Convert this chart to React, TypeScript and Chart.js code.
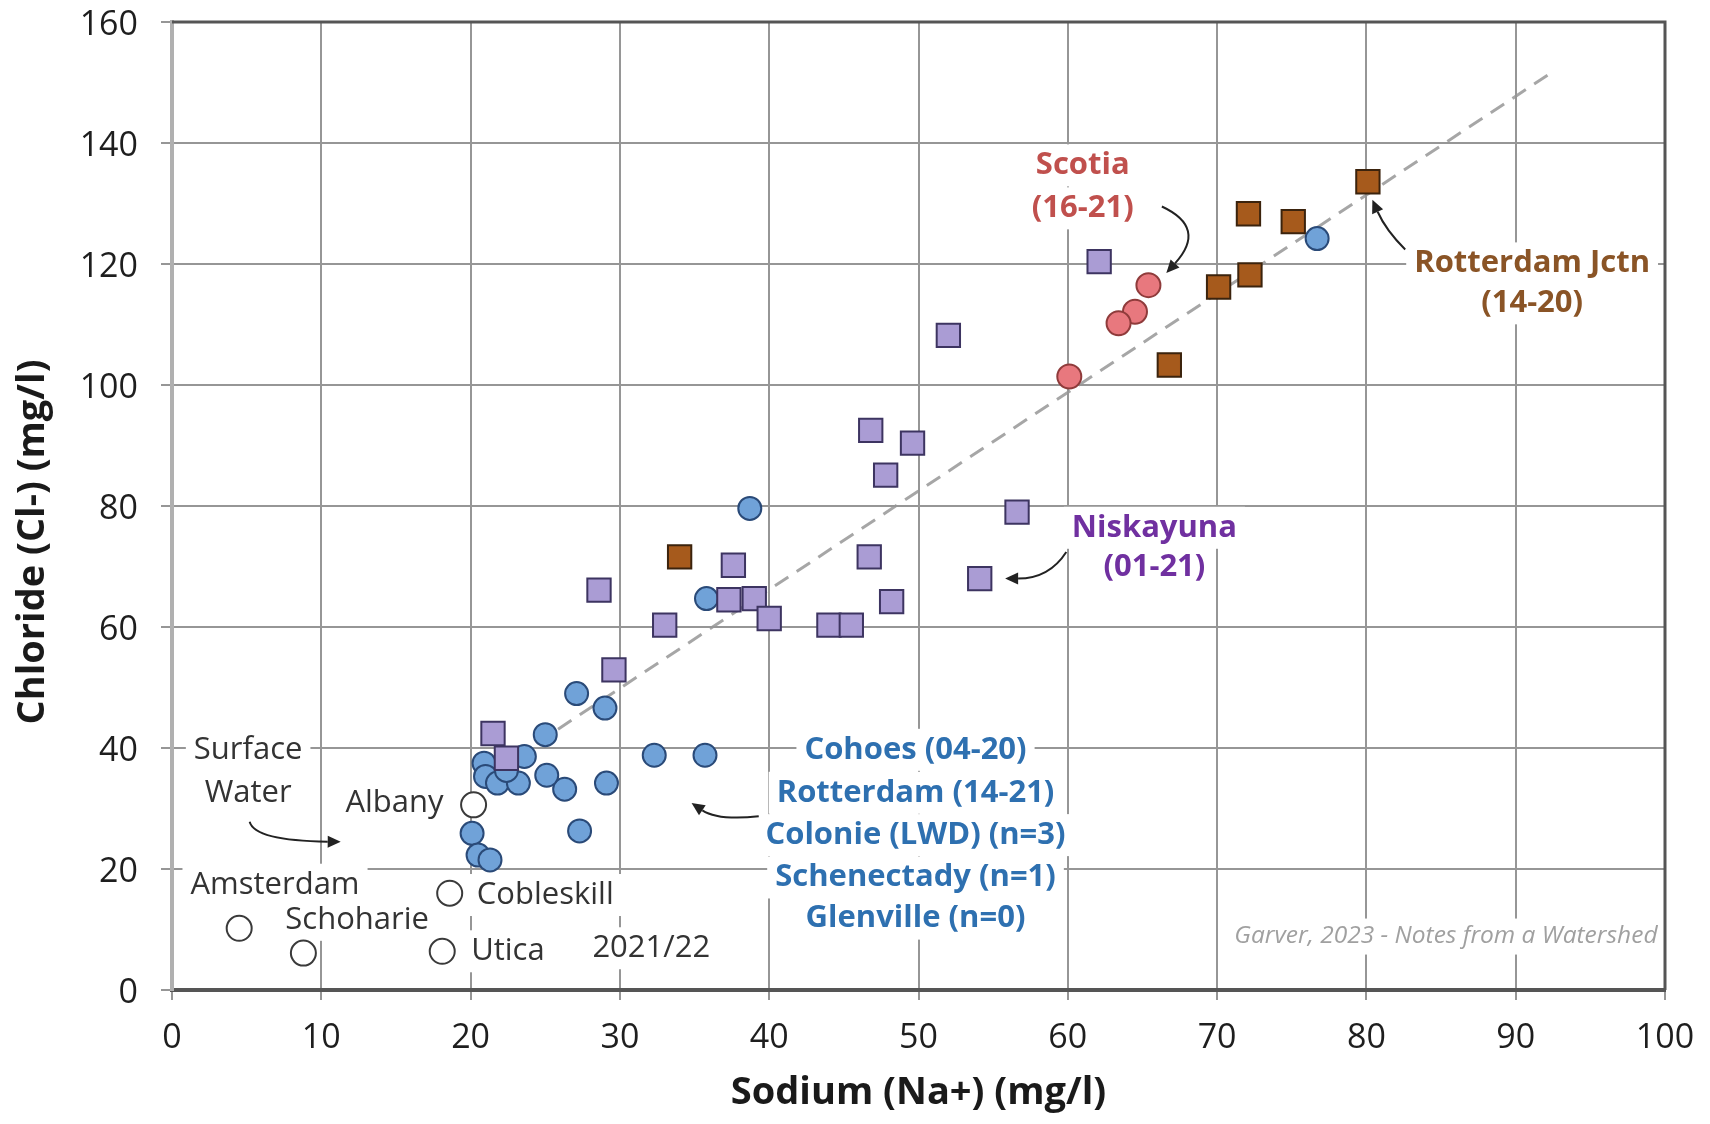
import React, { useEffect, useRef } from "react";
import { Chart, registerables } from "chart.js";

Chart.register(...registerables);

// ---------- data (Sodium Na+ mg/l, Chloride Cl- mg/l) ----------
const niskayunaNa = [62.1, 52.0, 46.8, 49.6, 47.8, 56.6, 46.7, 54.1, 28.6, 37.6, 37.3, 39.0, 40.0, 33.0, 44.0, 45.5, 48.2, 29.6, 21.5, 22.4];
const niskayunaCl = [120.4, 108.2, 92.5, 90.4, 85.1, 79.0, 71.6, 68.0, 66.1, 70.2, 64.5, 64.7, 61.4, 60.3, 60.3, 60.3, 64.2, 52.9, 42.4, 38.3];

const rotterdamJctnNa = [80.1, 72.1, 75.1, 72.2, 70.1, 66.8, 34.0];
const rotterdamJctnCl = [133.6, 128.3, 127.0, 118.2, 116.2, 103.3, 71.6];

const scotiaNa = [65.4, 64.5, 63.4, 60.1];
const scotiaCl = [116.5, 112.1, 110.2, 101.4];

const cohoesGroupNa = [76.7, 38.7, 35.8, 27.1, 29.0, 25.0, 32.3, 35.7, 29.1, 26.3, 27.3, 20.9, 23.6, 21.0, 21.8, 23.2, 25.1, 22.4, 20.1, 20.5, 21.3];
const cohoesGroupCl = [124.2, 79.6, 64.7, 49.0, 46.6, 42.2, 38.8, 38.8, 34.2, 33.2, 26.3, 37.5, 38.6, 35.3, 34.2, 34.2, 35.5, 36.3, 25.9, 22.3, 21.5];

const surfaceNames = ["Albany", "Cobleskill", "Amsterdam", "Schoharie", "Utica"];
const surfaceNa = [20.2, 18.6, 4.5, 8.8, 18.1];
const surfaceCl = [30.6, 16.0, 10.2, 6.1, 6.4];

const trendNa = [21.5, 92.5];
const trendCl = [36.0, 151.8];

const xTicks = [0, 10, 20, 30, 40, 50, 60, 70, 80, 90, 100];
const yTicks = [0, 20, 40, 60, 80, 100, 120, 140, 160];

const xTitle = "Sodium (Na+) (mg/l)";
const yTitle = "Chloride (Cl-) (mg/l)";

// ---------- annotations (positions in data units) ----------
type Note = { lines: string[]; x: number; y: number[]; color: string; weight: string };
const notes: Note[] = [
  { lines: ["Scotia", "(16-21)"], x: 61.0, y: [136.3, 129.2], color: "#c0504d", weight: "bold" },
  { lines: ["Rotterdam Jctn", "(14-20)"], x: 91.1, y: [120.1, 113.5], color: "#8a5426", weight: "bold" },
  { lines: ["Niskayuna", "(01-21)"], x: 65.8, y: [76.4, 69.9], color: "#7030a0", weight: "bold" },
  {
    lines: ["Cohoes (04-20)", "Rotterdam (14-21)", "Colonie (LWD) (n=3)", "Schenectady (n=1)", "Glenville (n=0)"],
    x: 49.8, y: [39.7, 32.6, 25.6, 18.6, 11.8], color: "#2e70b0", weight: "bold",
  },
  { lines: ["Surface", "Water"], x: 5.1, y: [39.7, 32.6], color: "#333333", weight: "normal" },
  { lines: [surfaceNames[0]], x: 14.9, y: [30.9], color: "#333333", weight: "normal" },
  { lines: [surfaceNames[2]], x: 6.9, y: [17.4], color: "#333333", weight: "normal" },
  { lines: [surfaceNames[3]], x: 12.4, y: [11.6], color: "#333333", weight: "normal" },
  { lines: [surfaceNames[1]], x: 25.0, y: [15.7], color: "#333333", weight: "normal" },
  { lines: [surfaceNames[4]], x: 22.5, y: [6.4], color: "#333333", weight: "normal" },
  { lines: ["2021/22"], x: 32.1, y: [6.9], color: "#333333", weight: "normal" },
];

type Arrow = { from: [number, number]; ctrl: [number, number]; to: [number, number] };
const arrows: Arrow[] = [
  { from: [66.3, 129.5], ctrl: [69.35, 126.0], to: [66.6, 118.5] },
  { from: [82.6, 122.4], ctrl: [81.3, 125.6], to: [80.4, 130.6] },
  { from: [59.9, 72.4], ctrl: [58.75, 68.0], to: [55.8, 68.0] },
  { from: [39.3, 28.7], ctrl: [36.55, 28.0], to: [34.8, 30.9] },
  { from: [5.2, 27.8], ctrl: [5.55, 24.65], to: [11.3, 24.5] },
];

const credit = "Garver, 2023 - Notes from a Watershed";
const creditPos = { x: 99.5, y: 9.0 };

const FONT = "'Open Sans', 'DejaVu Sans', sans-serif";
const NOTE_SIZE = 31;
const CREDIT_SIZE = 24.5;

const toPts = (xs: number[], ys: number[]) => xs.map((x, i) => ({ x, y: ys[i] }));

const annotationPlugin = {
  id: "annotations",
  beforeDatasetsDraw(chart: any) {
    const { ctx, scales } = chart;
    const xs = scales.x, ys = scales.y;
    ctx.save();
    ctx.fillStyle = "#ffffff";
    for (const n of notes) {
      ctx.font = `${n.weight} ${NOTE_SIZE}px ${FONT}`;
      n.lines.forEach((line, i) => {
        const w = ctx.measureText(line).width;
        const cx = xs.getPixelForValue(n.x);
        const cy = ys.getPixelForValue(n.y[i]);
        ctx.fillRect(cx - w / 2 - 8, cy - 21, w + 16, 42);
      });
    }
    ctx.font = `italic ${CREDIT_SIZE}px ${FONT}`;
    const cw = ctx.measureText(credit).width;
    const rx = xs.getPixelForValue(creditPos.x);
    const ry = ys.getPixelForValue(creditPos.y);
    ctx.fillRect(rx - cw - 6, ry - 17, cw + 10, 36);
    ctx.restore();
  },
  afterDatasetsDraw(chart: any) {
    const { ctx, scales, chartArea } = chart;
    const xs = scales.x, ys = scales.y;
    ctx.save();
    ctx.textAlign = "center";
    ctx.textBaseline = "middle";
    for (const n of notes) {
      ctx.font = `${n.weight} ${NOTE_SIZE}px ${FONT}`;
      ctx.fillStyle = n.color;
      n.lines.forEach((line, i) => {
        ctx.fillText(line, xs.getPixelForValue(n.x), ys.getPixelForValue(n.y[i]));
      });
    }
    // arrows
    ctx.strokeStyle = "#222";
    ctx.fillStyle = "#222";
    ctx.lineWidth = 2;
    for (const a of arrows) {
      const p0 = [xs.getPixelForValue(a.from[0]), ys.getPixelForValue(a.from[1])];
      const pc = [xs.getPixelForValue(a.ctrl[0]), ys.getPixelForValue(a.ctrl[1])];
      const p1 = [xs.getPixelForValue(a.to[0]), ys.getPixelForValue(a.to[1])];
      const ang = Math.atan2(p1[1] - pc[1], p1[0] - pc[0]);
      const L = 13, H = 6;
      const bx = p1[0] - L * Math.cos(ang), by = p1[1] - L * Math.sin(ang);
      ctx.beginPath();
      ctx.moveTo(p0[0], p0[1]);
      ctx.quadraticCurveTo(pc[0], pc[1], bx, by);
      ctx.stroke();
      ctx.beginPath();
      ctx.moveTo(p1[0], p1[1]);
      ctx.lineTo(bx + H * Math.sin(ang), by - H * Math.cos(ang));
      ctx.lineTo(bx - H * Math.sin(ang), by + H * Math.cos(ang));
      ctx.closePath();
      ctx.fill();
    }
    // credit
    ctx.font = `italic ${CREDIT_SIZE}px ${FONT}`;
    ctx.fillStyle = "#a0a0a0";
    ctx.textAlign = "right";
    ctx.fillText(credit, xs.getPixelForValue(creditPos.x), ys.getPixelForValue(creditPos.y));
    // top & right border
    ctx.strokeStyle = "#555";
    ctx.lineWidth = 3;
    ctx.beginPath();
    ctx.moveTo(chartArea.left, chartArea.top);
    ctx.lineTo(chartArea.right, chartArea.top);
    ctx.lineTo(chartArea.right, chartArea.bottom);
    ctx.stroke();
    ctx.restore();
  },
  afterDraw(chart: any) {
    const { ctx, chartArea } = chart;
    ctx.save();
    ctx.fillStyle = "#1a1a1a";
    ctx.font = `bold 38px ${FONT}`;
    ctx.textAlign = "center";
    ctx.textBaseline = "middle";
    ctx.fillText(xTitle, (chartArea.left + chartArea.right) / 2, 1093);
    ctx.translate(33, 542);
    ctx.rotate(-Math.PI / 2);
    ctx.fillText(yTitle, 0, 0);
    ctx.restore();
  },
};

export default function App() {
  const ref = useRef<HTMLCanvasElement | null>(null);
  useEffect(() => {
    if (!ref.current) return;
    const tickFont = { family: FONT, size: 34 };
    const chart = new Chart(ref.current, {
      type: "scatter",
      data: {
        datasets: [
          {
            label: "Scotia",
            data: toPts(scotiaNa, scotiaCl),
            pointStyle: "circle",
            pointRadius: 12,
            backgroundColor: "#e8787e",
            borderColor: "#8f3b3b",
            borderWidth: 2,
          },
          {
            label: "Rotterdam Jctn",
            data: toPts(rotterdamJctnNa, rotterdamJctnCl),
            pointStyle: "rect",
            pointRadius: 16.5,
            backgroundColor: "#a65a1c",
            borderColor: "#3b230d",
            borderWidth: 2,
          },
          {
            label: "Niskayuna",
            data: toPts(niskayunaNa, niskayunaCl),
            pointStyle: "rect",
            pointRadius: 16.5,
            backgroundColor: "#aa9cd4",
            borderColor: "#3d3461",
            borderWidth: 2,
          },
          {
            label: "Cohoes / Rotterdam / Colonie / Schenectady",
            data: toPts(cohoesGroupNa, cohoesGroupCl),
            pointStyle: "circle",
            pointRadius: 11.5,
            backgroundColor: "#70a2d8",
            borderColor: "#2a4a78",
            borderWidth: 2,
          },
          {
            label: "Surface Water",
            data: toPts(surfaceNa, surfaceCl),
            pointStyle: "circle",
            pointRadius: 12.5,
            backgroundColor: "#ffffff",
            borderColor: "#3a3a3a",
            borderWidth: 2,
          },
          {
            label: "Trend",
            data: toPts(trendNa, trendCl),
            showLine: true,
            pointRadius: 0,
            borderColor: "rgba(150,150,150,0.85)",
            borderWidth: 3,
            borderDash: [16, 10],
          },
        ],
      },
      options: {
        responsive: false,
        animation: false,
        events: [],
        layout: { padding: { top: 22, right: 45, left: 0, bottom: 0 } },
        plugins: { legend: { display: false }, tooltip: { enabled: false } },
        scales: {
          x: {
            type: "linear",
            min: 0,
            max: 100,
            afterBuildTicks: (s: any) => { s.ticks = xTicks.map((v) => ({ value: v })); },
            afterFit: (s: any) => { s.height = 134; s.paddingLeft = 0; s.paddingRight = 0; },
            ticks: { font: tickFont, color: "#1e1e1e", padding: 18, maxRotation: 0 },
            grid: { color: "#969696", lineWidth: 2, tickLength: 10 },
            border: { color: "#555", width: 4 },
          },
          y: {
            type: "linear",
            min: 0,
            max: 160,
            afterBuildTicks: (s: any) => { s.ticks = yTicks.map((v) => ({ value: v })); },
            afterFit: (s: any) => { s.width = 172; s.paddingTop = 0; s.paddingBottom = 0; },
            ticks: { font: tickFont, color: "#1e1e1e", padding: 23, labelOffset: 3 },
            grid: { color: "#969696", lineWidth: 2, tickLength: 11 },
            border: { color: "#b0b0b0", width: 4 },
          },
        },
      },
      plugins: [annotationPlugin],
    } as any);
    return () => chart.destroy();
  }, []);
  return (
    <div style={{ position: "fixed", left: 0, top: 0, width: 1710, height: 1124, background: "#fff" }}>
      <canvas ref={ref} width={1710} height={1124} style={{ display: "block", width: 1710, height: 1124 }} />
    </div>
  );
}
